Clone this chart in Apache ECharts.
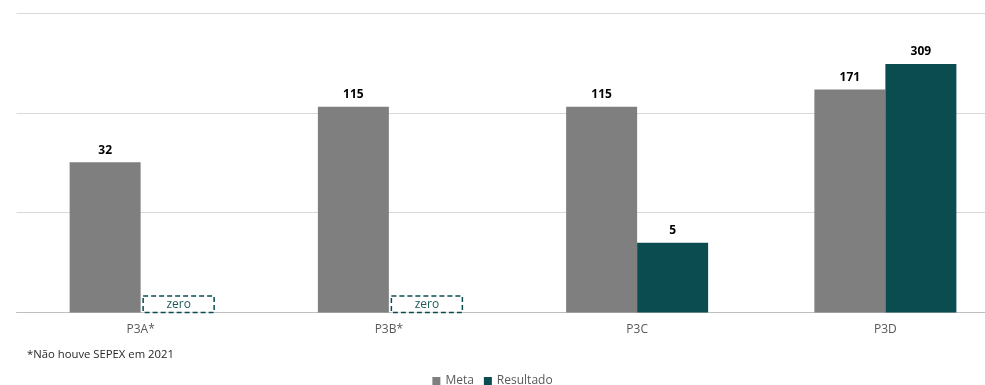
<!DOCTYPE html>
<html>
<head>
<meta charset="utf-8">
<script src="https://cdn.jsdelivr.net/npm/echarts@6/dist/echarts.min.js"></script>
<style>
html,body{margin:0;padding:0;background:#fff;}
#chart{width:985px;height:385px;}
</style>
</head>
<body>
<div id="chart"></div>
<script>
const categories = ['P3A*', 'P3B*', 'P3C', 'P3D'];
const metaValues = [32, 115, 115, 171];
const resultadoValues = [0, 0, 5, 309];
const footnote = '*Não houve SEPEX em 2021';
const zeroText = 'zero';

const FONT = '"Open Sans", "Noto Sans", sans-serif';
const TEAL = '#0b4c50';
const GRAY = '#7f7f7f';

const chart = echarts.init(document.getElementById('chart'));

const resultadoBars = resultadoValues.map(v => v > 0 ? v : '-');
const zeroData = [];
resultadoValues.forEach((v, i) => { if (v === 0) zeroData.push([i, 1]); });

chart.setOption({
  animation: false,
  backgroundColor: '#fff',
  grid: { left: 16.5, top: 13, width: 993, height: 299.5, containLabel: false, outerBoundsMode: 'none' },
  xAxis: {
    type: 'category',
    data: categories,
    axisLine: { show: true, lineStyle: { color: '#bfbfbf', width: 1 } },
    axisTick: { show: false },
    axisLabel: { color: '#595959', fontFamily: FONT, fontSize: 12, margin: 11 }
  },
  yAxis: {
    type: 'log',
    logBase: 10,
    min: 1,
    max: 1000,
    axisLine: { show: false },
    axisTick: { show: false },
    axisLabel: { show: false },
    splitLine: { show: true, lineStyle: { color: '#d9d9d9', width: 1 } }
  },
  legend: {
    data: ['Meta', 'Resultado'],
    top: 370,
    left: 'center',
    itemWidth: 8,
    itemHeight: 8,
    itemGap: 10,
    icon: 'rect',
    textStyle: { color: '#595959', fontFamily: FONT, fontSize: 12 }
  },
  graphic: [{
    type: 'text',
    left: 27,
    top: 349,
    style: { text: footnote, fill: '#262626', font: '11.3px ' + FONT }
  }],
  series: [
    {
      name: 'Meta',
      type: 'bar',
      data: metaValues,
      barWidth: 71,
      barGap: '0%',
      itemStyle: { color: GRAY },
      label: {
        show: true, position: 'top', distance: 6,
        color: '#000', fontFamily: FONT, fontWeight: 'bold', fontSize: 12
      }
    },
    {
      name: 'Resultado',
      type: 'bar',
      data: resultadoBars,
      barWidth: 71,
      barGap: '0%',
      itemStyle: { color: TEAL },
      label: {
        show: true, position: 'top', distance: 6,
        color: '#000', fontFamily: FONT, fontWeight: 'bold', fontSize: 12
      }
    },
    {
      name: 'zeroBoxes',
      type: 'custom',
      data: zeroData,
      encode: { x: 0, y: 1 },
      silent: true,
      z: 5,
      renderItem: function (params, api) {
        const p = api.coord([api.value(0), api.value(1)]);
        const x = p[0] + 2.5;
        const w = 71;
        const h = 16.5;
        const y = p[1] - h;
        return {
          type: 'group',
          children: [
            {
              type: 'rect',
              shape: { x: x, y: y, width: w, height: h },
              style: { fill: '#fff', stroke: TEAL, lineWidth: 1.5, lineDash: [5, 3] }
            },
            {
              type: 'text',
              style: {
                text: zeroText, x: x + w / 2, y: y + h / 2 + 0.5,
                align: 'center', verticalAlign: 'middle',
                fill: '#1d5a5c', font: '12px ' + FONT
              }
            }
          ]
        };
      }
    }
  ]
});
</script>
</body>
</html>
